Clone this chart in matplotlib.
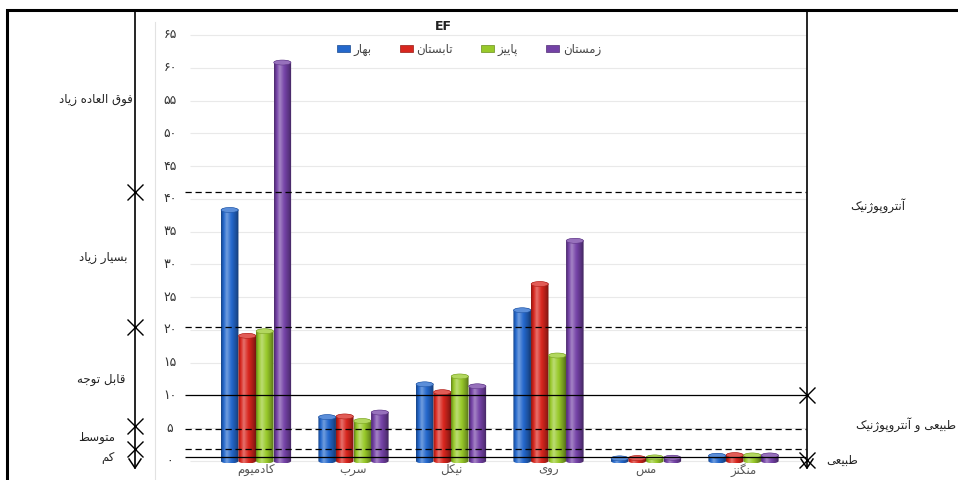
import numpy as np
import matplotlib
matplotlib.use("Agg")
import matplotlib.pyplot as plt
import matplotlib.colors as mcolors
from matplotlib.path import Path
from matplotlib.patches import PathPatch, Ellipse, Patch
from matplotlib.transforms import blended_transform_factory

plt.rcParams["font.family"] = ["DejaVu Sans"]

# ---- data -------------------------------------------------------------
categories = ["کادمیوم", "سرب", "نیکل", "روی", "مس", "منگنز"]
seasons = ["بهار", "تابستان", "پاییز", "زمستان"]
spring = [38.3, 6.7, 11.7, 23.0, 0.40, 0.80]
summer = [19.1, 6.8, 10.5, 27.0, 0.45, 0.90]
autumn = [19.8, 6.1, 12.9, 16.1, 0.55, 0.85]
winter = [60.8, 7.4, 11.4, 33.6, 0.50, 0.85]
y_ticks = list(range(0, 70, 5))

# class boundaries drawn across the plot
dashed_levels = [41.0, 20.4, 4.9, 1.8]
solid_levels = [10.0, 0.65]
left_marks = [41.0, 20.4, 5.3, 1.8]
right_marks = [10.0, 0.2]

left_classes = ["فوق العاده زیاد", "بسیار زیاد", "قابل توجه", "متوسط", "کم"]
right_classes = ["آنتروپوژنیک", "طبیعی و آنتروپوژنیک", "طبیعی"]

colors = ["#2468cc", "#d8261e", "#98c92a", "#7442a6"]

# ---- Persian text shaping (presentation forms + right-to-left order) ---
FORMS = {
    "ا": ("\uFE8D", "\uFE8E"), "آ": ("\uFE81", "\uFE82"),
    "د": ("\uFEA9", "\uFEAA"), "ر": ("\uFEAD", "\uFEAE"),
    "ز": ("\uFEAF", "\uFEB0"), "ژ": ("\uFB8A", "\uFB8B"),
    "و": ("\uFEED", "\uFEEE"),
    "ب": ("\uFE8F", "\uFE90", "\uFE91", "\uFE92"),
    "پ": ("\uFB56", "\uFB57", "\uFB58", "\uFB59"),
    "ت": ("\uFE95", "\uFE96", "\uFE97", "\uFE98"),
    "ج": ("\uFE9D", "\uFE9E", "\uFE9F", "\uFEA0"),
    "س": ("\uFEB1", "\uFEB2", "\uFEB3", "\uFEB4"),
    "ط": ("\uFEC1", "\uFEC2", "\uFEC3", "\uFEC4"),
    "ع": ("\uFEC9", "\uFECA", "\uFECB", "\uFECC"),
    "ف": ("\uFED1", "\uFED2", "\uFED3", "\uFED4"),
    "ق": ("\uFED5", "\uFED6", "\uFED7", "\uFED8"),
    "ک": ("\uFB8E", "\uFB8F", "\uFB90", "\uFB91"),
    "گ": ("\uFB92", "\uFB93", "\uFB94", "\uFB95"),
    "ل": ("\uFEDD", "\uFEDE", "\uFEDF", "\uFEE0"),
    "م": ("\uFEE1", "\uFEE2", "\uFEE3", "\uFEE4"),
    "ن": ("\uFEE5", "\uFEE6", "\uFEE7", "\uFEE8"),
    "ه": ("\uFEE9", "\uFEEA", "\uFEEB", "\uFEEC"),
    "ی": ("\uFBFC", "\uFBFD", "\uFBFE", "\uFBFF"),
}


def fa(text):
    text = text.replace("ي", "ی").replace("ك", "ک")
    out = []
    for i, c in enumerate(text):
        if c not in FORMS:
            out.append(c)
            continue
        prev = text[i - 1] if i > 0 else " "
        nxt = text[i + 1] if i + 1 < len(text) else " "
        join_prev = prev in FORMS and len(FORMS[prev]) == 4
        join_next = len(FORMS[c]) == 4 and nxt in FORMS
        f = FORMS[c]
        if join_prev and join_next:
            out.append(f[3])
        elif join_prev:
            out.append(f[1])
        elif join_next:
            out.append(f[2])
        else:
            out.append(f[0])
    return "".join(reversed(out))


def fa_digits(n):
    return str(n).translate(str.maketrans("0123456789", "۰۱۲۳۴۵۶۷۸۹"))


def shade(base, t):
    rgb = np.array(mcolors.to_rgb(base))
    # dark edges, bright band left of centre
    k = np.interp(t, [0.0, 0.12, 0.32, 0.55, 0.85, 1.0],
                  [-0.35, -0.05, 0.35, 0.05, -0.25, -0.45])
    out = np.empty((len(t), 3))
    for i, kk in enumerate(k):
        out[i] = rgb + (1 - rgb) * kk if kk > 0 else rgb * (1 + kk)
    return np.clip(out, 0, 1)


def cylinder(ax, xc, w, h, color, cap):
    th_b = np.linspace(np.pi, 2 * np.pi, 30)
    th_t = np.linspace(0, np.pi, 30)
    bottom = np.column_stack([xc + w / 2 * np.cos(th_b), cap / 2 * np.sin(th_b)])
    top = np.column_stack([xc + w / 2 * np.cos(th_t), h + cap / 2 * np.sin(th_t)])
    verts = np.vstack([bottom, top, bottom[:1]])
    patch = PathPatch(Path(verts, closed=True), facecolor="none",
                      edgecolor="none", zorder=3)
    ax.add_patch(patch)
    t = np.linspace(0, 1, 64)
    img = shade(color, t)[np.newaxis, :, :]
    im = ax.imshow(img, extent=(xc - w / 2, xc + w / 2, -cap / 2, h + cap / 2),
                   aspect="auto", origin="lower", interpolation="bilinear",
                   zorder=3)
    im.set_clip_path(patch)
    rgb = np.array(mcolors.to_rgb(color))
    ax.add_patch(Ellipse((xc, h), w * 0.98, cap, facecolor=rgb + (1 - rgb) * 0.25,
                         edgecolor=rgb * 0.8, lw=0.4, zorder=4))


# ---- figure -------------------------------------------------------------
W, H = 958, 480
fig = plt.figure(figsize=(W / 100, H / 100), dpi=100)
fig.patch.set_facecolor("white")

# main plotting area: 65 at y=35px, 0 at y=461px
y_top, y_zero = 35.0, 461.0
ppu = (y_zero - y_top) / 65.0
y_min = -1.0
ax_bottom_px = y_zero + ppu * (-y_min)
x_left_px, x_right_px = 207.25, 792.25
ax = fig.add_axes([x_left_px / W, 1 - ax_bottom_px / H,
                   (x_right_px - x_left_px) / W, (ax_bottom_px - y_top) / H])
ax.set_facecolor("none")
for s in ax.spines.values():
    s.set_visible(False)

series = [spring, summer, autumn, winter]
x = np.arange(len(categories))
bw = 0.18
cap = 5.0 / ppu
for j, vals in enumerate(series):
    for i, v in enumerate(vals):
        cylinder(ax, x[i] + (j - 1.5) * bw, bw, v, colors[j], cap)

ax.set_xlim(-0.5, len(categories) - 0.5)
ax.set_ylim(y_min, 65)
ax.set_yticks([])
ax.set_xticks(x)
ax.set_xticklabels([fa(c) for c in categories], fontsize=8.5, color="#555555")
ax.tick_params(axis="x", length=0, pad=-3)

# overlay in pixel coordinates for the surrounding diagram
ov = fig.add_axes([0, 0, 1, 1], zorder=5)
ov.set_xlim(0, W)
ov.set_ylim(H, 0)
ov.axis("off")

def px_to_axfrac(px):
    return (px - x_left_px) / (x_right_px - x_left_px)

hx = blended_transform_factory(ax.transAxes, ax.transData)
mx = blended_transform_factory(ov.transData, ax.transData)

# faint grid
ax.hlines(y_ticks, px_to_axfrac(190), px_to_axfrac(806), transform=hx,
          colors="#e9e9e9", lw=0.8, zorder=0, clip_on=False)
ov.plot([155, 155], [22, 480], color="#e2e2e2", lw=0.8)

# y tick labels in Persian digits
for t in y_ticks:
    ax.text(170, t, fa_digits(t), transform=mx, ha="center", va="center",
            fontsize=9, color="#333333")

# class boundary lines
ax.hlines(dashed_levels, px_to_axfrac(185), px_to_axfrac(806), transform=hx,
          colors="black", lw=0.9, linestyles=(0, (5, 3)), zorder=5, clip_on=False)
ax.hlines(solid_levels, px_to_axfrac(185), px_to_axfrac(806), transform=hx,
          colors="black", lw=0.9, zorder=5, clip_on=False)

# frame
ov.plot([7, 7, W], [H, 10, 10], color="black", lw=2.2, solid_joinstyle="miter")

# vertical scale lines with arrows
for xv in (135, 807):
    ov.plot([xv, xv], [10, 468], color="black", lw=1.2)
    ov.plot([xv - 6, xv, xv + 6], [459, 468, 459], color="black", lw=1.1)

ov.plot([135] * len(left_marks), left_marks, transform=mx, ls="none",
        marker="x", ms=11, mew=1.0, color="black")
ax.plot([807] * len(right_marks), right_marks, transform=mx, ls="none",
        marker="x", ms=11, mew=1.0, color="black", clip_on=False, zorder=6)

# title and legend
ov.text(443, 27, "EF", ha="center", va="center", fontsize=9,
        fontweight="bold", color="#222222")
handles = [Patch(facecolor=c, edgecolor=np.array(mcolors.to_rgb(c)) * 0.7, lw=0.5)
           for c in colors]
fig.legend(handles, [fa(s) for s in seasons], loc="center",
           bbox_to_anchor=(469 / W, 1 - 49 / H), ncol=4, frameon=False,
           fontsize=8.5, handlelength=1.1, handleheight=0.6, handletextpad=0.3,
           columnspacing=2.4, labelcolor="#444444")

# class names
left_y = [100, 257, 380, 438, 458]
left_x = [133, 128, 125, 115, 115]
for txt, xx, yy in zip(left_classes, left_x, left_y):
    ov.text(xx, yy, fa(txt), ha="right", va="center", fontsize=8.5,
            color="#222222")
right_pos = [(905, 206), (956, 425), (858, 460)]
for txt, (xx, yy) in zip(right_classes, right_pos):
    ov.text(xx, yy, fa(txt), ha="right", va="center", fontsize=8.5,
            color="#222222")

fig.savefig("out.png", dpi=100, facecolor="white")
